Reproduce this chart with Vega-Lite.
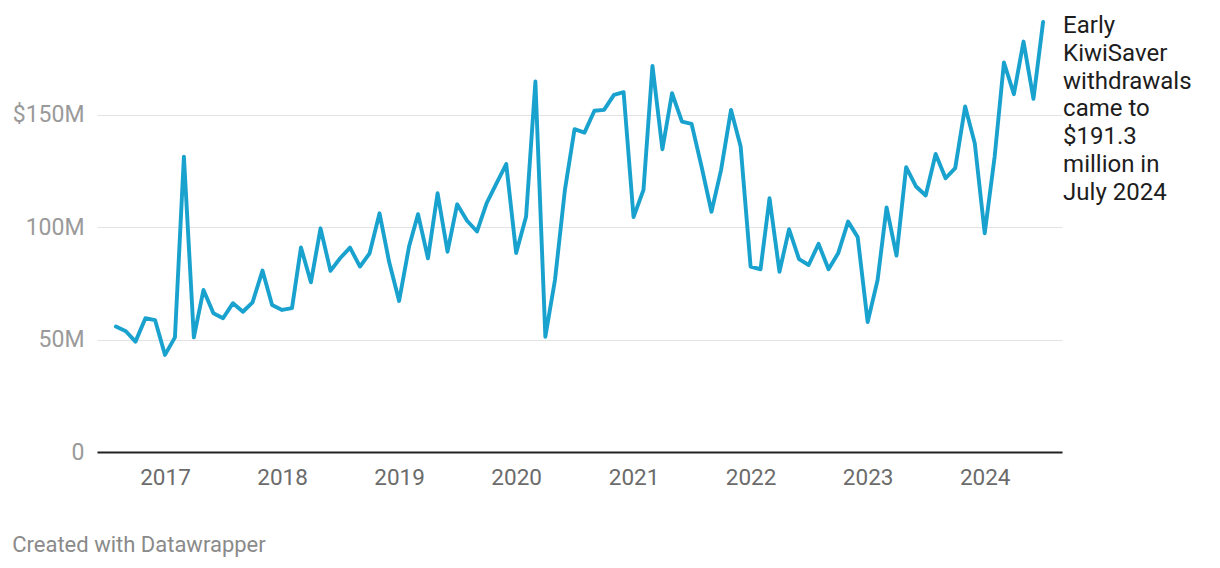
{
  "$schema": "https://vega.github.io/schema/vega-lite/v6.json",
  "width": 965,
  "height": 430,
  "autosize": "none",
  "padding": {"left": 97, "top": 22, "right": 158, "bottom": 116},
  "background": "white",
  "config": {
    "view": {"stroke": null},
    "font": "Roboto",
    "title": {"font": "Roboto", "fontWeight": "normal"}
  },
  "title": {
    "text": "Created with Datawrapper",
    "orient": "bottom",
    "anchor": "start",
    "frame": "bounds",
    "fontSize": 22,
    "color": "#8a8a8a",
    "offset": 46,
    "dx": 0
  },
  "datasets": {
    "withdrawals": [
      {"date": "2016-08-01", "value": 55.8},
      {"date": "2016-09-01", "value": 53.7},
      {"date": "2016-10-01", "value": 49.1},
      {"date": "2016-11-01", "value": 59.5},
      {"date": "2016-12-01", "value": 58.7},
      {"date": "2017-01-01", "value": 43.2},
      {"date": "2017-02-01", "value": 51.0},
      {"date": "2017-03-01", "value": 131.4},
      {"date": "2017-04-01", "value": 51.0},
      {"date": "2017-05-01", "value": 72.1},
      {"date": "2017-06-01", "value": 61.7},
      {"date": "2017-07-01", "value": 59.5},
      {"date": "2017-08-01", "value": 66.2},
      {"date": "2017-09-01", "value": 62.4},
      {"date": "2017-10-01", "value": 66.6},
      {"date": "2017-11-01", "value": 80.7},
      {"date": "2017-12-01", "value": 65.4},
      {"date": "2018-01-01", "value": 63.2},
      {"date": "2018-02-01", "value": 64.0},
      {"date": "2018-03-01", "value": 91.0},
      {"date": "2018-04-01", "value": 75.5},
      {"date": "2018-05-01", "value": 99.5},
      {"date": "2018-06-01", "value": 80.6},
      {"date": "2018-07-01", "value": 86.2},
      {"date": "2018-08-01", "value": 90.9},
      {"date": "2018-09-01", "value": 82.5},
      {"date": "2018-10-01", "value": 88.4},
      {"date": "2018-11-01", "value": 106.2},
      {"date": "2018-12-01", "value": 84.5},
      {"date": "2019-01-01", "value": 67.2},
      {"date": "2019-02-01", "value": 91.4},
      {"date": "2019-03-01", "value": 105.8},
      {"date": "2019-04-01", "value": 86.2},
      {"date": "2019-05-01", "value": 115.1},
      {"date": "2019-06-01", "value": 89.1},
      {"date": "2019-07-01", "value": 110.2},
      {"date": "2019-08-01", "value": 102.9},
      {"date": "2019-09-01", "value": 98.1},
      {"date": "2019-10-01", "value": 110.7},
      {"date": "2019-11-01", "value": 119.6},
      {"date": "2019-12-01", "value": 128.1},
      {"date": "2020-01-01", "value": 88.5},
      {"date": "2020-02-01", "value": 104.8},
      {"date": "2020-03-01", "value": 164.8},
      {"date": "2020-04-01", "value": 51.3},
      {"date": "2020-05-01", "value": 76.5},
      {"date": "2020-06-01", "value": 116.6},
      {"date": "2020-07-01", "value": 143.6},
      {"date": "2020-08-01", "value": 142.1},
      {"date": "2020-09-01", "value": 151.8},
      {"date": "2020-10-01", "value": 152.2},
      {"date": "2020-11-01", "value": 158.9},
      {"date": "2020-12-01", "value": 160.1},
      {"date": "2021-01-01", "value": 104.5},
      {"date": "2021-02-01", "value": 116.6},
      {"date": "2021-03-01", "value": 171.8},
      {"date": "2021-04-01", "value": 134.7},
      {"date": "2021-05-01", "value": 159.6},
      {"date": "2021-06-01", "value": 147.0},
      {"date": "2021-07-01", "value": 146.0},
      {"date": "2021-08-01", "value": 127.0},
      {"date": "2021-09-01", "value": 106.9},
      {"date": "2021-10-01", "value": 125.5},
      {"date": "2021-11-01", "value": 152.2},
      {"date": "2021-12-01", "value": 135.9},
      {"date": "2022-01-01", "value": 82.5},
      {"date": "2022-02-01", "value": 81.3},
      {"date": "2022-03-01", "value": 112.9},
      {"date": "2022-04-01", "value": 80.2},
      {"date": "2022-05-01", "value": 99.1},
      {"date": "2022-06-01", "value": 85.8},
      {"date": "2022-07-01", "value": 83.2},
      {"date": "2022-08-01", "value": 92.6},
      {"date": "2022-09-01", "value": 81.3},
      {"date": "2022-10-01", "value": 88.4},
      {"date": "2022-11-01", "value": 102.5},
      {"date": "2022-12-01", "value": 95.6},
      {"date": "2023-01-01", "value": 57.8},
      {"date": "2023-02-01", "value": 76.5},
      {"date": "2023-03-01", "value": 108.8},
      {"date": "2023-04-01", "value": 87.4},
      {"date": "2023-05-01", "value": 126.7},
      {"date": "2023-06-01", "value": 118.1},
      {"date": "2023-07-01", "value": 114.1},
      {"date": "2023-08-01", "value": 132.6},
      {"date": "2023-09-01", "value": 121.8},
      {"date": "2023-10-01", "value": 126.3},
      {"date": "2023-11-01", "value": 153.7},
      {"date": "2023-12-01", "value": 137.4},
      {"date": "2024-01-01", "value": 97.3},
      {"date": "2024-02-01", "value": 131.4},
      {"date": "2024-03-01", "value": 173.3},
      {"date": "2024-04-01", "value": 159.2},
      {"date": "2024-05-01", "value": 182.6},
      {"date": "2024-06-01", "value": 157.1},
      {"date": "2024-07-01", "value": 191.3}
    ],
    "note": [
      {"date": "2024-07-01", "value": 191.3, "label": "Early\nKiwiSaver\nwithdrawals\ncame to\n$191.3\nmillion in\nJuly 2024"}
    ]
  },
  "layer": [
    {
      "data": {"name": "withdrawals"},
      "mark": {"type": "line", "color": "#1aa2cf", "strokeWidth": 3.9, "strokeJoin": "round", "strokeCap": "round"},
      "encoding": {
        "x": {
          "field": "date",
          "type": "temporal",
          "scale": {
            "type": "utc",
            "domain": [
              {"year": 2016, "month": 6, "date": 3, "utc": true},
              {"year": 2024, "month": 8, "date": 29, "utc": true}
            ]
          },
          "axis": {
            "title": null,
            "zindex": 1,
            "values": [
              {"year": 2017, "month": 1, "date": 1, "utc": true},
              {"year": 2018, "month": 1, "date": 1, "utc": true},
              {"year": 2019, "month": 1, "date": 1, "utc": true},
              {"year": 2020, "month": 1, "date": 1, "utc": true},
              {"year": 2021, "month": 1, "date": 1, "utc": true},
              {"year": 2022, "month": 1, "date": 1, "utc": true},
              {"year": 2023, "month": 1, "date": 1, "utc": true},
              {"year": 2024, "month": 1, "date": 1, "utc": true}
            ],
            "format": "%Y",
            "grid": false,
            "ticks": false,
            "domain": true,
            "domainColor": "#222222",
            "domainWidth": 2,
            "labelFont": "Roboto",
            "labelFontSize": 22.5,
            "labelColor": "#6b6b6b",
            "labelPadding": 14,
            "labelFlush": false
          }
        },
        "y": {
          "field": "value",
          "type": "quantitative",
          "scale": {"domain": [0, 191.3], "nice": false, "zero": true},
          "axis": {
            "title": null,
            "zindex": 0,
            "values": [0, 50, 100, 150],
            "labelExpr": "datum.value == 150 ? '$150M' : datum.value == 0 ? '0' : datum.value + 'M'",
            "domain": false,
            "ticks": false,
            "grid": true,
            "gridColor": "#e3e3e3",
            "gridWidth": 1.2,
            "labelFont": "Roboto",
            "labelFontSize": 23,
            "labelColor": "#9a9a9a",
            "labelPadding": 13,
            "labelBaseline": "middle"
          }
        }
      }
    },
    {
      "data": {"name": "note"},
      "mark": {
        "type": "text",
        "align": "left",
        "baseline": "top",
        "font": "Roboto",
        "fontSize": 24,
        "lineHeight": 27.8,
        "lineBreak": "\n",
        "color": "#1d1d1d",
        "dx": 20,
        "dy": -8
      },
      "encoding": {
        "x": {"field": "date", "type": "temporal"},
        "y": {"field": "value", "type": "quantitative"},
        "text": {"field": "label"}
      }
    }
  ]
}
